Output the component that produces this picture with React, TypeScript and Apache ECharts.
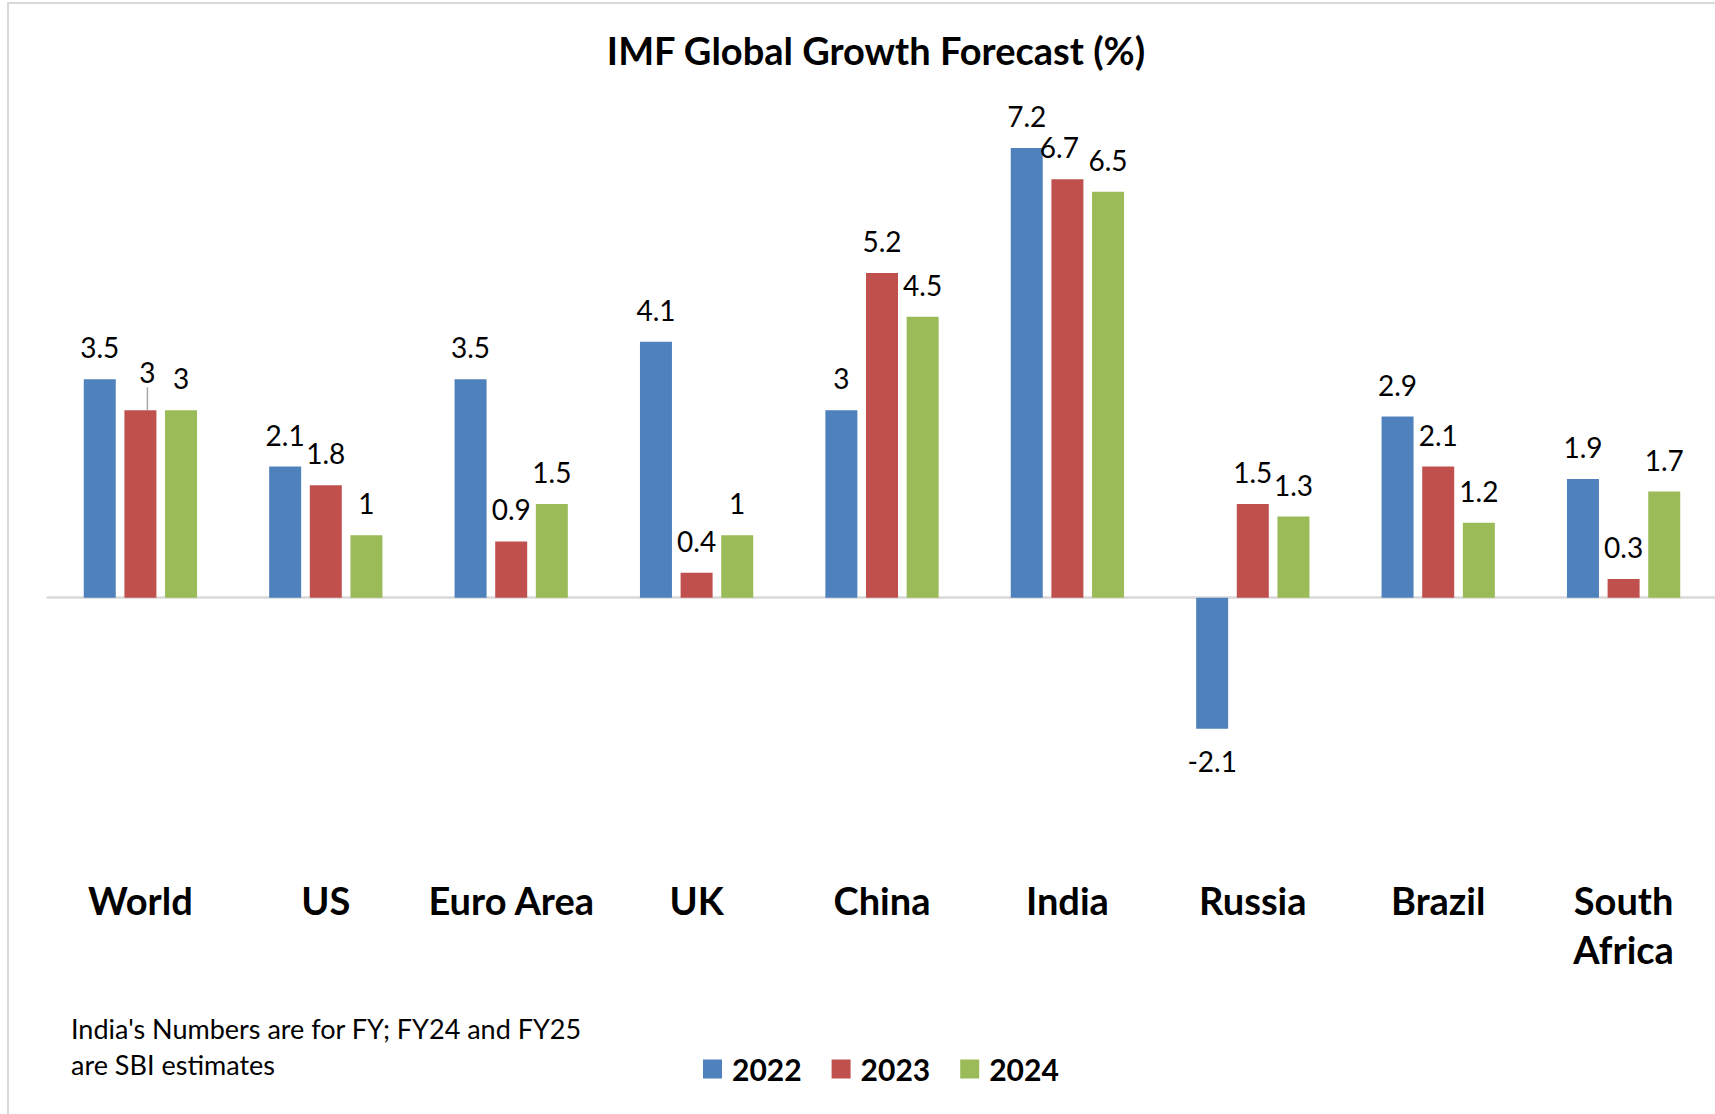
import React, { useEffect, useRef } from "react";
import * as echarts from "echarts";

const categories = ["World", "US", "Euro Area", "UK", "China", "India", "Russia", "Brazil", "South Africa"];
const years = ["2022", "2023", "2024"];
const values2022 = [3.5, 2.1, 3.5, 4.1, 3, 7.2, -2.1, 2.9, 1.9];
const values2023 = [3, 1.8, 0.9, 0.4, 5.2, 6.7, 1.5, 2.1, 0.3];
const values2024 = [3, 1, 1.5, 1, 4.5, 6.5, 1.3, 1.2, 1.7];
const colors = ["#4F81BD", "#C0504D", "#9BBB59"];
const titleText = "IMF Global Growth Forecast (%)";
const noteText = "India's Numbers are for FY; FY24 and FY25\nare SBI estimates";

const FONT = "Lato, 'Open Sans', sans-serif";

export default function App() {
  const ref = useRef<HTMLDivElement>(null);
  useEffect(() => {
    if (!ref.current) return;
    const chart = echarts.init(ref.current, undefined, { renderer: "svg" });
    const labelBase = {
      show: true,
      position: "top",
      distance: 17,
      fontFamily: FONT,
      fontSize: 28,
      lineHeight: 30,
      color: "#000",
      formatter: (p: any) => String(p.value),
    };
    const mkData = (arr: number[]) =>
      arr.map((v) => (v < 0 ? { value: v, label: { position: "bottom" } } : v));
    const series = [values2022, values2023, values2024].map((arr, i) => ({
      name: years[i],
      type: "bar",
      barWidth: 32,
      barGap: "27%",
      data:
        i === 1
          ? arr.map((v, j) =>
              j === 0 ? { value: v, labelLine: { show: true, lineStyle: { color: "#A6A6A6", width: 1.5 } } } : v
            )
          : mkData(arr),
      itemStyle: { color: colors[i] },
      label: labelBase,
      labelLayout:
        i === 1
          ? (params: any) =>
              params.dataIndex === 0 ? { dx: 7, dy: -6 } : params.dataIndex === 5 ? { dx: -8 } : {}
          : undefined,
    }));
    chart.setOption({
      animation: false,
      backgroundColor: "#fff",
      title: {
        text: titleText,
        left: 871,
        textAlign: "center",
        top: 26,
        textStyle: { fontFamily: FONT, fontWeight: "bold", fontSize: 38, color: "#000" },
      },
      legend: {
        data: years,
        left: 703,
        top: 1054,
        padding: 0,
        icon: "rect",
        itemWidth: 19,
        itemHeight: 19,
        itemGap: 30,
        textStyle: { fontFamily: FONT, fontWeight: "bold", fontSize: 30, color: "#000", padding: [0, 0, 0, 5] },
      },
      grid: {
        left: 47.7,
        top: 98.1,
        width: 1668.6,
        height: 749.4,
        containLabel: false,
        outerBoundsMode: "none",
      },
      xAxis: {
        type: "category",
        data: categories,
        axisTick: { show: false },
        axisLine: { show: true, onZero: true, lineStyle: { color: "#D9D9D9", width: 2.5 } },
        axisLabel: {
          margin: 28,
          interval: 0,
          fontFamily: FONT,
          fontWeight: "bold",
          fontSize: 38,
          lineHeight: 49,
          color: "#000",
          formatter: (v: string) => v.replace(" Africa", "\nAfrica"),
        },
      },
      yAxis: {
        type: "value",
        min: -4,
        max: 8,
        interval: 2,
        show: false,
        splitLine: { show: false },
      },
      graphic: [
        {
          type: "rect",
          shape: { x: 8, y: 3, width: 1800, height: 1200 },
          style: { fill: "none", stroke: "#D9D9D9", lineWidth: 2 },
          silent: true,
        },
        {
          type: "text",
          left: 71,
          top: 1010,
          style: {
            text: noteText,
            fontFamily: FONT,
            fontSize: 27,
            lineHeight: 36,
            fill: "#000",
          },
        },
      ],
      series,
    });
    return () => chart.dispose();
  }, []);
  return (
    <div
      ref={ref}
      style={{ position: "absolute", left: 0, top: 0, width: 1715, height: 1114, background: "#fff" }}
    />
  );
}
